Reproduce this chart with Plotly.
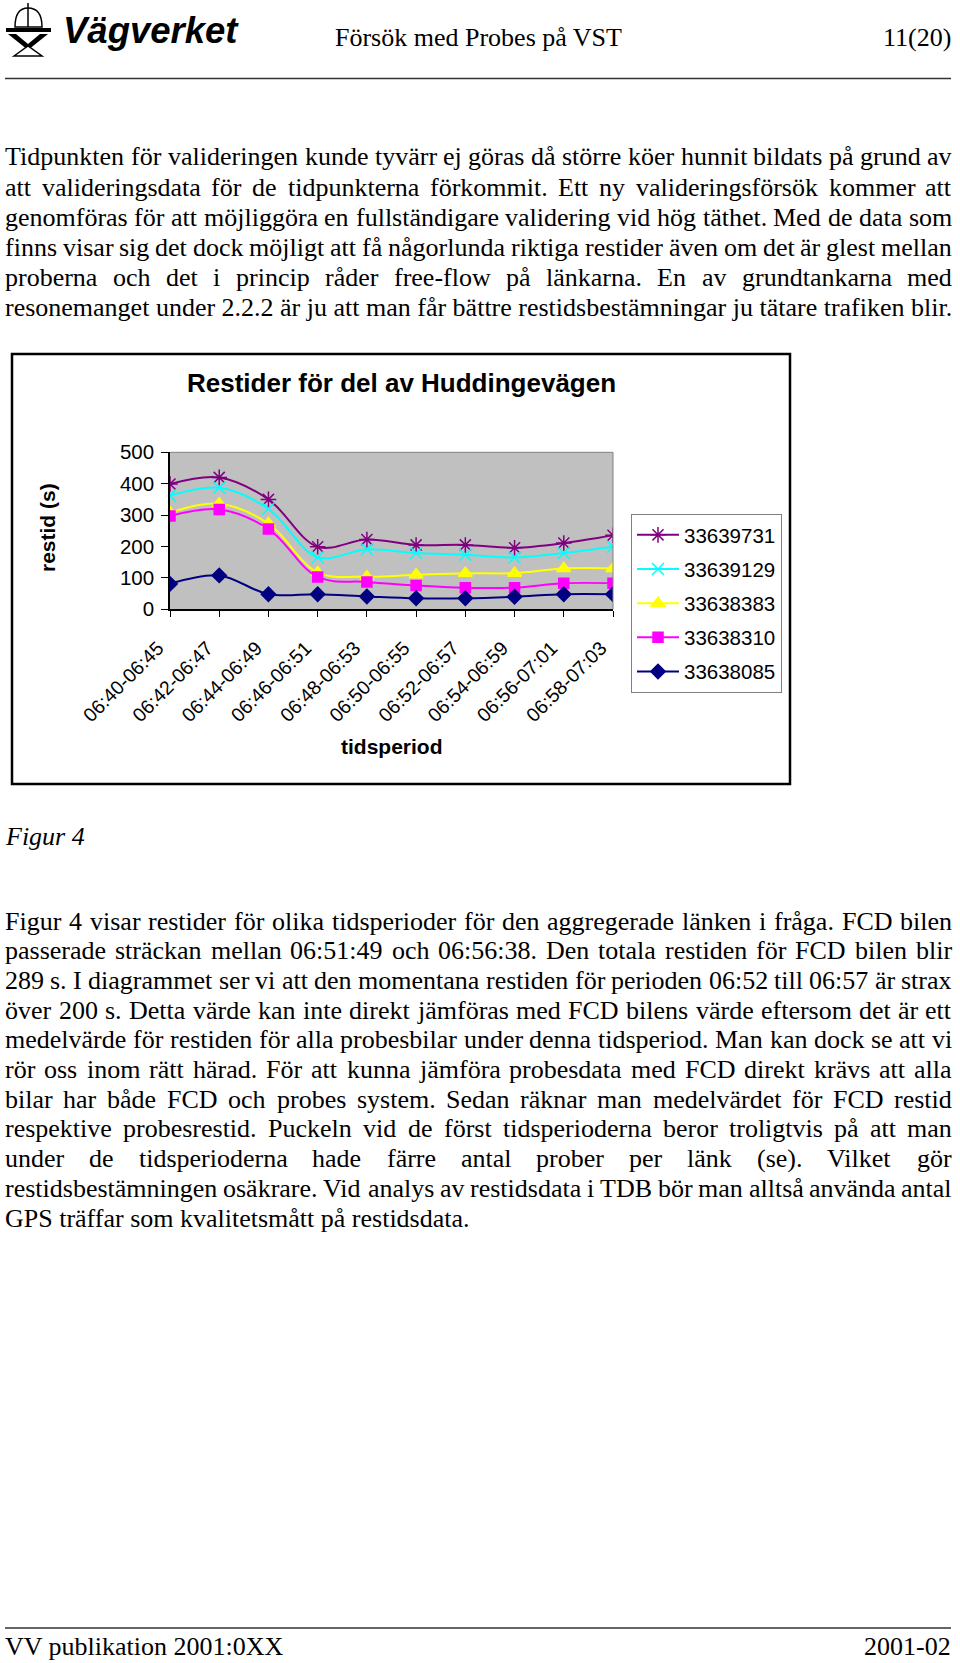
import plotly.graph_objects as go

W, H = 960, 1663
SERIF = "Liberation Serif, Times New Roman, serif"
SANS = "Liberation Sans, Arial, sans-serif"

# --- data --------------------------------------------------------------------
perioder = ["06:40-06:45", "06:42-06:47", "06:44-06:49", "06:46-06:51", "06:48-06:53",
            "06:50-06:55", "06:52-06:57", "06:54-06:59", "06:56-07:01", "06:58-07:03"]
s33639731 = [399, 420, 350, 199, 222, 205, 205, 196, 211, 236]
s33639129 = [362, 387, 320, 166, 191, 179, 174, 165, 179, 199]
s33638383 = [308, 336, 273, 117, 104, 110, 115, 115, 130, 130]
s33638310 = [297, 318, 256, 103, 87, 76, 69, 69, 83, 83]
s33638085 = [81, 108, 48, 48, 41, 35, 35, 40, 48, 48]

serier = [
    ("33639731", s33639731, "#800080", "asterisk-open", 13),
    ("33639129", s33639129, "#00FFFF", "x-thin-open", 12),
    ("33638383", s33638383, "#FFFF00", "triangle-up", 12),
    ("33638310", s33638310, "#FF00FF", "square", 10),
    ("33638085", s33638085, "#000080", "diamond", 11),
]

stycke1 = [
    "Tidpunkten för valideringen kunde tyvärr ej göras då större köer hunnit bildats på grund av",
    "att valideringsdata för de tidpunkterna förkommit. Ett ny valideringsförsök kommer att",
    "genomföras för att möjliggöra en fullständigare validering vid hög täthet. Med de data som",
    "finns visar sig det dock möjligt att få någorlunda riktiga restider även om det är glest mellan",
    "proberna och det i princip råder free-flow på länkarna. En av grundtankarna med",
    "resonemanget under 2.2.2 är ju att man får bättre restidsbestämningar ju tätare trafiken blir.",
]
stycke2 = [
    "Figur 4 visar restider för olika tidsperioder för den aggregerade länken i fråga. FCD bilen",
    "passerade sträckan mellan 06:51:49 och 06:56:38. Den totala restiden för FCD bilen blir",
    "289 s. I diagrammet ser vi att den momentana restiden för perioden 06:52 till 06:57 är strax",
    "över 200 s. Detta värde kan inte direkt jämföras med FCD bilens värde eftersom det är ett",
    "medelvärde för restiden för alla probesbilar under denna tidsperiod. Man kan dock se att vi",
    "rör oss inom rätt härad. För att kunna jämföra probesdata med FCD direkt krävs att alla",
    "bilar har både FCD och probes system. Sedan räknar man medelvärdet för FCD restid",
    "respektive probesrestid. Puckeln vid de först tidsperioderna beror troligtvis på att man",
    "under de tidsperioderna hade färre antal prober per länk (se). Vilket gör",
    "restidsbestämningen osäkrare. Vid analys av restidsdata i TDB bör man alltså använda antal",
    "GPS träffar som kvalitetsmått på restidsdata.",
]

# Times-metrik (em) för att kunna marginaljustera raderna
TIMES = dict(zip("abcdefghijklmnopqrstuvwxyz",
                 [.444, .5, .444, .5, .444, .333, .5, .5, .278, .278, .5, .278, .778,
                  .5, .5, .5, .5, .333, .389, .278, .5, .5, .722, .5, .5, .444]))
TIMES.update(dict(zip("ABCDEFGHIJKLMNOPQRSTUVWXYZ",
                      [.722, .667, .667, .722, .611, .556, .722, .722, .333, .389, .722, .611, .889,
                       .722, .722, .556, .722, .667, .556, .611, .722, .722, .944, .722, .722, .611])))
TIMES.update({"ä": .444, "å": .444, "ö": .5, ".": .25, ",": .25, ":": .278, "-": .333,
              "(": .333, ")": .333, " ": .25})
for d in "0123456789":
    TIMES[d] = .5


def px(x):
    return x / W


def py(y):
    return 1 - y / H


fig = go.Figure()

for namn, varden, farg, symbol, storlek in serier:
    fig.add_trace(go.Scatter(
        x=perioder, y=varden, name=namn, legendgroup=namn,
        mode="lines+markers",
        line=dict(color=farg, width=2, shape="spline", smoothing=1),
        marker=dict(symbol=symbol, size=storlek, color=farg,
                    line=dict(color=farg, width=1.5)),
    ))


def txt(x, y, s, size=26, family=SERIF, anchor="left", **kw):
    fig.add_annotation(x=px(x), y=py(y), xref="paper", yref="paper", text=s,
                       showarrow=False, xanchor=anchor, yanchor="middle",
                       borderpad=0, borderwidth=0,
                       font=dict(size=size, family=family, color="black"), **kw)


L, R, FS = 5, 952, 26


def rad(text, y, justera=True):
    if not justera:
        txt(L, y, text)
        return
    ord_ = text.split()
    b = [sum(TIMES.get(c, .5) for c in o) * FS for o in ord_]
    gap = max((R - L - sum(b)) / (len(ord_) - 1), 2)
    x = L
    for i, (o, w) in enumerate(zip(ord_, b)):
        if i == len(ord_) - 1:
            txt(R, y, o, anchor="right")
        else:
            txt(x, y, o)
        x += w + gap


# sidhuvud
txt(63, 30, "<b><i>Vägverket</i></b>", size=36.5, family=SANS)
txt(335, 38, "Försök med Probes på VST")
txt(951, 38, "11(20)", anchor="right")
fig.add_shape(type="line", xref="paper", yref="paper", x0=px(5), x1=px(951), y0=py(78.5), y1=py(78.5),
              line=dict(color="#333", width=1.5))
# enkel logga
fig.add_shape(type="path", xref="paper", yref="paper",
              path=f"M {px(15)},{py(27)} Q {px(15)},{py(8)} {px(28)},{py(8)} Q {px(42)},{py(8)} {px(42)},{py(27)} Z",
              line=dict(color="black", width=1.5), fillcolor="white")
fig.add_shape(type="line", xref="paper", yref="paper", x0=px(28), x1=px(28), y0=py(3), y1=py(27),
              line=dict(color="black", width=1.5))
fig.add_shape(type="rect", xref="paper", yref="paper", x0=px(6), x1=px(51), y0=py(28), y1=py(32),
              line=dict(width=0), fillcolor="black")
fig.add_shape(type="path", xref="paper", yref="paper",
              path=f"M {px(8)},{py(34)} L {px(28)},{py(50)} L {px(48)},{py(34)} L {px(40)},{py(34)} L {px(28)},{py(44)} L {px(16)},{py(34)} Z",
              line=dict(width=0), fillcolor="black")
fig.add_shape(type="path", xref="paper", yref="paper",
              path=f"M {px(14)},{py(56)} L {px(28)},{py(46)} L {px(42)},{py(56)} Z",
              line=dict(color="black", width=1.5), fillcolor="white")

for i, t in enumerate(stycke1):
    rad(t, 157 + i * 30.1, justera=i < len(stycke1) - 1)

txt(5, 836, "<i>Figur 4</i>")

for i, t in enumerate(stycke2):
    rad(t, 921 + i * 29.7, justera=i < len(stycke2) - 1)

# sidfot
fig.add_shape(type="line", xref="paper", yref="paper", x0=px(5), x1=px(951), y0=py(1628), y1=py(1628),
              line=dict(color="#333", width=1.5))
txt(5, 1646, "VV publikation 2001:0XX")
txt(951, 1646, "2001-02", anchor="right")

# diagrammets ram, titel och axeltitlar
fig.add_shape(type="rect", xref="paper", yref="paper", x0=px(12), x1=px(790), y0=py(354), y1=py(784),
              line=dict(color="black", width=2.5))
fig.add_shape(type="line", xref="paper", yref="paper", x0=px(170), x1=px(613), y0=py(452.3), y1=py(452.3),
              line=dict(color="#808080", width=1))
fig.add_shape(type="line", xref="paper", yref="paper", x0=px(613), x1=px(613), y0=py(452.3), y1=py(609.3),
              line=dict(color="#808080", width=1))
txt(401, 383, "<b>Restider för del av Huddingevägen</b>", size=26, family=SANS, anchor="center")
txt(47, 528, "<b>restid (s)</b>", size=21, family=SANS, anchor="center", textangle=-90)
txt(392, 746, "<b>tidsperiod</b>", size=21, family=SANS, anchor="center")

fig.update_layout(
    width=W, height=H,
    margin=dict(l=0, r=0, t=0, b=0, autoexpand=False),
    paper_bgcolor="white",
    plot_bgcolor="#C0C0C0",
    showlegend=True,
    legend=dict(x=px(631), y=py(514), xanchor="left", yanchor="top",
                bordercolor="#808080", borderwidth=1, bgcolor="white",
                font=dict(size=20.5, family=SANS, color="black"),
                tracegroupgap=4.5, traceorder="grouped", itemwidth=42),
    font=dict(family=SANS, color="black"),
)
fig.update_xaxes(
    domain=[px(170), px(613)], type="category", range=[0, 9],
    automargin=False,
    tickangle=-45, ticks="outside", ticklen=6, tickcolor="black",
    ticklabelstandoff=12, ticklabelshift=-12,
    showline=True, linecolor="black", linewidth=1.5,
    showgrid=False, zeroline=False,
    tickfont=dict(size=19.5, family=SANS, color="black"),
)
fig.update_yaxes(
    domain=[py(609.3), py(452.3)], range=[0, 500], dtick=100,
    automargin=False,
    ticks="outside", ticklen=7, tickcolor="black", ticklabelstandoff=3,
    showline=True, linecolor="black", linewidth=1.5,
    showgrid=False, zeroline=False,
    tickfont=dict(size=20.5, family=SANS, color="black"),
)

# sidan ska fylla fönstret utan body-marginal
fig.write_html("out.html", config={"displayModeBar": False},
               post_script="document.body.style.margin='0';document.body.style.overflow='hidden';")
